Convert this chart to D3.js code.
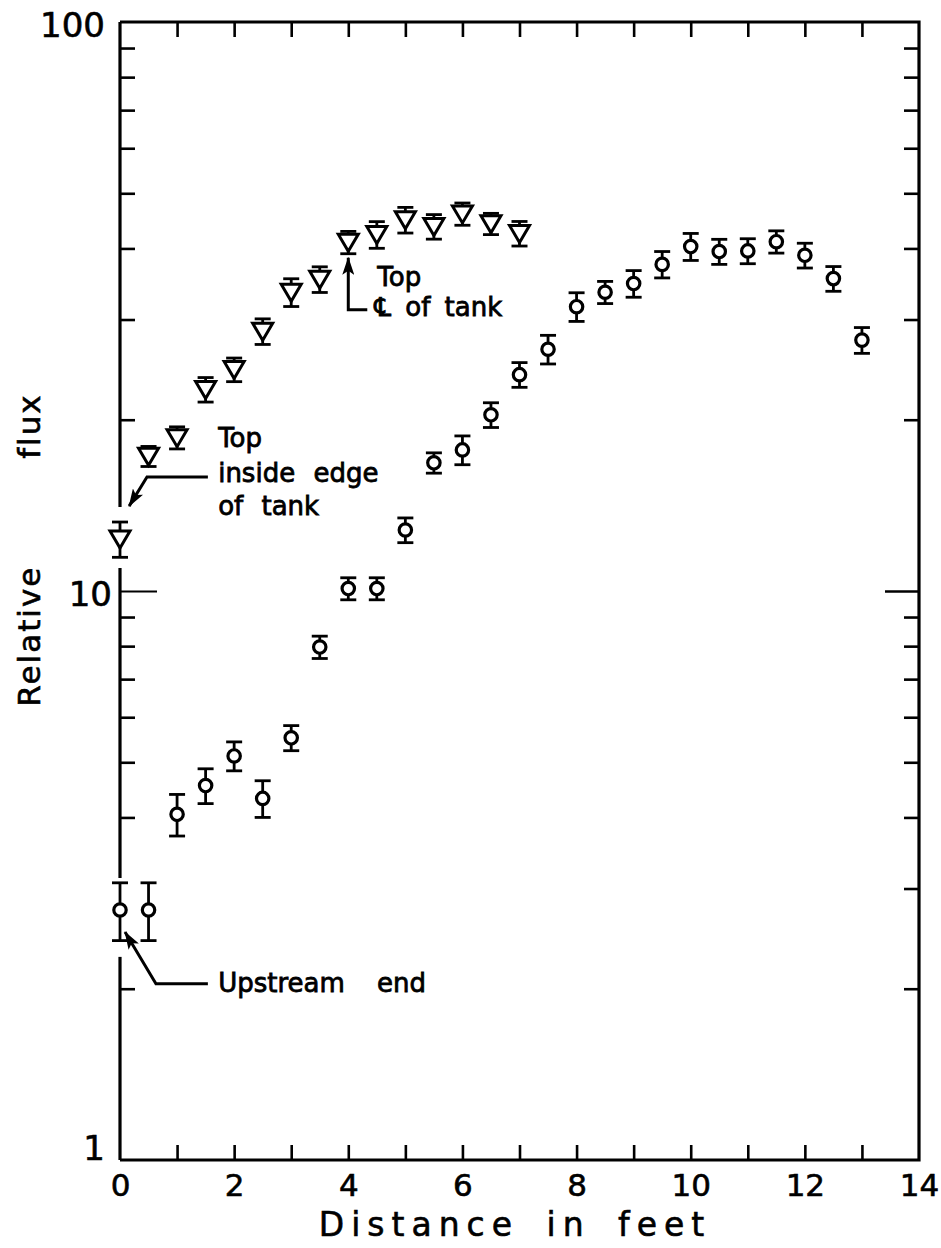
<!DOCTYPE html>
<html>
<head>
<meta charset="utf-8">
<script src="https://cdn.jsdelivr.net/npm/d3@7"></script>
<style>
  html, body { margin: 0; padding: 0; background: #fff; }
  svg { display: block; }
  text { font-family: "DejaVu Sans", sans-serif; fill: #000; stroke: #000; stroke-width: 0.6px; }
  .ann { stroke-width: 0.8px; }
</style>
</head>
<body>
<svg id="chart" width="941" height="1248"></svg>
<script>
// ---------- data ----------
const circleX   = [0, 0.5, 1, 1.5, 2, 2.5, 3, 3.5, 4, 4.5, 5, 5.5, 6, 6.5, 7, 7.5, 8, 8.5, 9, 9.5, 10, 10.5, 11, 11.5, 12, 12.5, 13];
const circleY   = [2.75, 2.75, 4.05, 4.55, 5.13, 4.32, 5.52, 7.97, 10.1, 10.1, 12.8, 16.8, 17.7, 20.4, 24.0, 26.6, 31.6, 33.5, 34.7, 37.5, 40.3, 39.5, 39.6, 41.1, 38.9, 35.4, 27.6];
const circleErr = [0.32, 0.32, 0.34, 0.32, 0.30, 0.32, 0.28, 0.36, 0.45, 0.45, 0.64, 0.69, 1.03, 1.02, 1.2, 1.54, 1.83, 1.5, 1.87, 2.0, 2.2, 2.0, 2.0, 1.85, 1.95, 1.77, 1.44];

const triX   = [0, 0.5, 1, 1.5, 2, 2.5, 3, 3.5, 4, 4.5, 5, 5.5, 6, 6.5, 7];
const triY   = [12.34, 17.25, 18.6, 22.6, 24.5, 28.6, 33.5, 35.3, 41.0, 42.3, 44.9, 43.7, 46.0, 44.2, 42.5];
const triErr = [0.88, 0.70, 0.83, 1.12, 1.17, 1.48, 1.88, 1.83, 1.85, 2.28, 2.33, 2.17, 2.07, 1.90, 2.11];

const xTickValues = [0, 1, 2, 3, 4, 5, 6, 7, 8, 9, 10, 11, 12, 13, 14];
const xTickLabels = ["0", "", "2", "", "4", "", "6", "", "8", "", "10", "", "12", "", "14"];
const yMinorTicks = [2, 3, 4, 5, 6, 7, 8, 9, 20, 30, 40, 50, 60, 70, 80, 90];
const yLabelValues = [1, 10, 100];
const yLabelTexts  = ["1", "10", "100"];

// ---------- layout ----------
const svg = d3.select("#chart");
const x = d3.scaleLinear().domain([0, 14]).range([120, 919]);
const y = d3.scaleLog().domain([1, 100]).range([1160, 22]);
const X0 = x(0), X1 = x(14), Y0 = y(1), Y1 = y(100);

// defs: arrowhead
svg.append("defs").append("marker")
  .attr("id", "arrow").attr("markerUnits", "userSpaceOnUse")
  .attr("viewBox", "0 0 18 12").attr("markerWidth", 18).attr("markerHeight", 12)
  .attr("refX", 17).attr("refY", 6).attr("orient", "auto")
  .append("path").attr("d", "M0,0 L18,6 L0,12 L4,6 Z").attr("fill", "#000");

// ---------- axes (ticks) ----------
const tickStroke = 2.6;
const fmtX = d => xTickLabels[xTickValues.indexOf(d)];

const gxb = svg.append("g").attr("transform", `translate(0,${Y0})`)
  .call(d3.axisBottom(x).tickValues(xTickValues).tickFormat(fmtX).tickSizeInner(-15).tickSizeOuter(0).tickPadding(14));
gxb.select(".domain").remove();
gxb.selectAll(".tick line").attr("stroke", "#000").attr("stroke-width", tickStroke)
  .filter(d => d === 0 || d === 14).remove();
gxb.selectAll(".tick text").attr("font-size", 31).attr("dy", "0.71em");

const gxt = svg.append("g").attr("transform", `translate(0,${Y1})`)
  .call(d3.axisTop(x).tickValues(xTickValues.slice(1, -1)).tickFormat("").tickSizeInner(-15).tickSizeOuter(0));
gxt.select(".domain").remove();
gxt.selectAll(".tick line").attr("stroke", "#000").attr("stroke-width", tickStroke);

// left ticks (3 falls into the broken part of the axis)
const gyl = svg.append("g").attr("transform", `translate(${X0},0)`)
  .call(d3.axisLeft(y).tickValues(yMinorTicks.filter(v => v !== 3).concat([10])).tickFormat("").tickSizeInner(-15).tickSizeOuter(0));
gyl.select(".domain").remove();
gyl.selectAll(".tick line").attr("stroke", "#000").attr("stroke-width", tickStroke)
  .filter(d => d === 10).attr("x2", 37).attr("stroke-width", 2);

const gyr = svg.append("g").attr("transform", `translate(${X1},0)`)
  .call(d3.axisRight(y).tickValues(yMinorTicks.concat([10])).tickFormat("").tickSizeInner(-15).tickSizeOuter(0));
gyr.select(".domain").remove();
gyr.selectAll(".tick line").attr("stroke", "#000").attr("stroke-width", tickStroke)
  .filter(d => d === 10).attr("x2", -34);

// y labels
svg.append("g").selectAll("text").data(yLabelValues).join("text")
  .attr("x", d => d === 10 ? X0 - 8 : X0 - 15)
  .attr("y", d => d === 1 ? y(d) - 12 : y(d) + 3)
  .attr("dy", "0.35em").attr("text-anchor", "end").attr("font-size", 34)
  .text((d, i) => yLabelTexts[i]);

// ---------- frame ----------
const frame = svg.append("g").attr("stroke", "#000").attr("stroke-width", 3.2).attr("fill", "none");
frame.append("path").attr("d", `M${X0},${Y1} H${X1} V${Y0} H${X0}`);
// left axis is broken where the x = 0 points sit on it
const leftSegs = [[100, 14.05], [10.97, 3.13], [2.275, 1]];
frame.selectAll("line.l").data(leftSegs).join("line").attr("class", "l")
  .attr("x1", X0).attr("x2", X0).attr("y1", d => y(d[0])).attr("y2", d => y(d[1]));

// ---------- data marks ----------
const capW = 8;
function errorBars(g, xs, ys, es) {
  const idx = d3.range(xs.length);
  g.selectAll("line.v").data(idx).join("line").attr("class", "v")
    .attr("x1", i => x(xs[i])).attr("x2", i => x(xs[i]))
    .attr("y1", i => y(ys[i] + es[i])).attr("y2", i => y(ys[i] - es[i]));
  g.selectAll("line.t").data(idx).join("line").attr("class", "t")
    .attr("x1", i => x(xs[i]) - capW).attr("x2", i => x(xs[i]) + capW)
    .attr("y1", i => y(ys[i] + es[i])).attr("y2", i => y(ys[i] + es[i]));
  g.selectAll("line.b").data(idx).join("line").attr("class", "b")
    .attr("x1", i => x(xs[i]) - capW).attr("x2", i => x(xs[i]) + capW)
    .attr("y1", i => y(ys[i] - es[i])).attr("y2", i => y(ys[i] - es[i]));
}

const gc = svg.append("g").attr("stroke", "#000").attr("stroke-width", 2.8);
errorBars(gc, circleX, circleY, circleErr);
gc.selectAll("circle").data(d3.range(circleX.length)).join("circle")
  .attr("cx", i => x(circleX[i])).attr("cy", i => y(circleY[i])).attr("r", 6.2)
  .attr("fill", "#fff").attr("stroke-width", 3.2);

const gt = svg.append("g").attr("stroke", "#000").attr("stroke-width", 2.8);
errorBars(gt, triX, triY, triErr);
gt.selectAll("path.tri").data(d3.range(triX.length)).join("path").attr("class", "tri")
  .attr("d", i => {
    const cx = x(triX[i]), cy = y(triY[i]);
    return `M${cx - 10},${cy - 8} L${cx + 10},${cy - 8} L${cx},${cy + 9} Z`;
  })
  .attr("fill", "#fff").attr("stroke-width", 3).attr("stroke-linejoin", "miter");

// ---------- annotations ----------
const ann = svg.append("g");
const lead = ann.append("g").attr("stroke", "#000").attr("stroke-width", 3).attr("fill", "none");
const annFS = 26;

// Top centreline of tank
const aX = x(4);
lead.append("path").attr("d", `M${aX + 19},${y(31.2)} H${aX} V${y(38.5)}`).attr("marker-end", "url(#arrow)");
ann.append("text").attr("class", "ann").attr("x", aX + 29).attr("y", y(34.3)).attr("font-size", annFS).text("Top");
ann.append("text").attr("class", "ann").attr("x", aX + 26).attr("y", y(30.4)).attr("font-size", annFS)
  .attr("word-spacing", 6).text("\u2104 of tank");

// Top inside edge of tank
lead.append("path").attr("d", `M${x(1.54)},${y(15.86)} H${x(0.473)} L${x(0.16)},${y(14.1)}`).attr("marker-end", "url(#arrow)");
const tx = x(1.72);
ann.append("text").attr("class", "ann").attr("x", tx).attr("y", y(17.9)).attr("font-size", annFS).text("Top");
ann.append("text").attr("class", "ann").attr("x", tx).attr("y", y(15.55)).attr("font-size", annFS).attr("word-spacing", 10).text("inside edge");
ann.append("text").attr("class", "ann").attr("x", tx).attr("y", y(13.6)).attr("font-size", annFS).attr("word-spacing", 10).text("of tank");

// Upstream end
lead.append("path").attr("d", `M${x(1.54)},${y(2.04)} H${x(0.63)} L${x(0.088)},${y(2.515)}`).attr("marker-end", "url(#arrow)");
ann.append("text").attr("class", "ann").attr("x", tx).attr("y", y(1.974)).attr("font-size", annFS).attr("word-spacing", 24).text("Upstream end");

// ---------- axis titles ----------
svg.append("text").attr("x", 515).attr("y", 1236)
  .attr("text-anchor", "middle").attr("font-size", 33).attr("letter-spacing", 7).attr("word-spacing", 10)
  .text("Distance in feet");
svg.append("text").attr("transform", "translate(40,550) rotate(-90)")
  .attr("text-anchor", "middle").attr("font-size", 31).attr("letter-spacing", 2).attr("word-spacing", 95)
  .text("Relative flux");
</script>
</body>
</html>
